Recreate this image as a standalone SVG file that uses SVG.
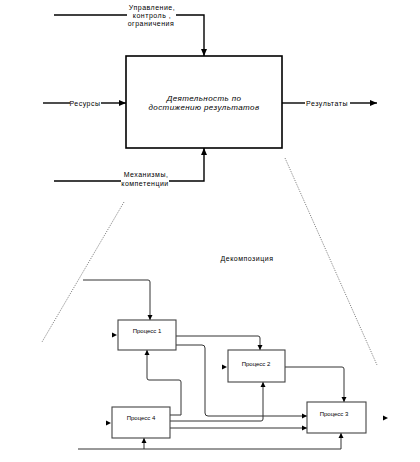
<svg xmlns="http://www.w3.org/2000/svg" width="420" height="462" viewBox="0 0 420 462">
<style>
text{font-family:"Liberation Sans",Arial,sans-serif;fill:#000;text-anchor:middle}
.t7{font-size:7px;letter-spacing:0.5px}
.main{font-size:8px;font-style:italic;letter-spacing:0.4px}
.p{font-size:6px}
.big{fill:#fff;stroke:#000;stroke-width:1.6}
.box{fill:#fff;stroke:#444;stroke-width:1.1}
.c1{fill:none;stroke:#000;stroke-width:1.4}
.c2{fill:none;stroke:#333;stroke-width:1}
.dot{fill:none;stroke:#666;stroke-width:0.8;stroke-dasharray:1.2 1.2}
.ah{fill:#000}
</style>
<defs>
<marker id="a1" markerUnits="userSpaceOnUse" markerWidth="8" markerHeight="8" refX="7" refY="4" orient="auto">
<path d="M0,1 L7,4 L0,7 z" fill="#000"/>
</marker>
<marker id="a2" markerUnits="userSpaceOnUse" markerWidth="6" markerHeight="6" refX="5" refY="3" orient="auto">
<path d="M0,0.5 L5,3 L0,5.5 z" fill="#000"/>
</marker>
</defs>

<g id="connectors">
<!-- top level -->
<path class="c1" d="M54,15 H127"/>
<path class="c1" d="M176,15 H204 V56" marker-end="url(#a1)"/>
<path class="c1" d="M43,103 H70"/>
<path class="c1" d="M101,103 H126" marker-end="url(#a1)"/>
<path class="c1" d="M282,103 H305"/>
<path class="c1" d="M350,103 H377" marker-end="url(#a1)"/>
<path class="c1" d="M54,181 H121"/>
<path class="c1" d="M169,181 H204 V148" marker-end="url(#a1)"/>
<!-- decomposition cone -->
<path class="dot" d="M124,202 L42,342"/>
<path class="dot" d="M285,158 L377,365"/>
<!-- lower level -->
<path class="c2" d="M83,280 H148 Q150,280 150,282 V320" marker-end="url(#a2)"/>
<path class="c2" d="M176,336 H258 Q260,336 260,338 V350" marker-end="url(#a2)"/>
<path class="c2" d="M176,345 H202 Q205,345 205,348 V413 Q205,416 208,416 H307" marker-end="url(#a2)"/>
<path class="c2" d="M285,367 H342 Q344,367 344,369 V402" marker-end="url(#a2)"/>
<path class="c2" d="M170,415 H181 V382 Q181,380 179,380 H149 Q147,380 147,378 V350" marker-end="url(#a2)"/>
<path class="c2" d="M170,421 H261 Q263,421 263,419 V382" marker-end="url(#a2)"/>
<path class="c2" d="M170,428 H307" marker-end="url(#a2)"/>
<path class="c2" d="M78,449 H341 V433" marker-end="url(#a2)"/>
<path class="c2" d="M144,449 V438" marker-end="url(#a2)"/>
<!-- stub arrowheads -->
<path class="ah" d="M112,332.5 L117,335 L112,337.5 z"/>
<path class="ah" d="M222,364.5 L227,367 L222,369.5 z"/>
<path class="ah" d="M106,420.5 L111,423 L106,425.5 z"/>
<path class="ah" d="M383,415.5 L388,418 L383,420.5 z"/>
</g>

<g id="labels">
<text class="t7" x="152" y="9.5">Управление,</text>
<text class="t7" x="152" y="17.5">контроль ,</text>
<text class="t7" x="151" y="26">ограничения</text>
<text class="t7" x="85" y="105.5">Ресурсы</text>
<text class="t7" x="327" y="105.5">Результаты</text>
<text class="t7" x="146" y="177">Механизмы,</text>
<text class="t7" x="145" y="186">компетенции</text>
<text class="t7" x="247" y="261">Декомпозиция</text>
</g>

<g id="activity">
<rect class="big" x="126" y="56" width="156" height="92"/>
<text class="main" x="204" y="101">Деятельность по</text>
<text class="main" x="204" y="110">достижению результатов</text>
</g>

<g id="process1">
<rect class="box" x="118" y="320" width="58" height="30"/>
<text class="p" x="147" y="333">Процесс 1</text>
</g>
<g id="process2">
<rect class="box" x="228" y="350" width="57" height="32"/>
<text class="p" x="256" y="366">Процесс 2</text>
</g>
<g id="process3">
<rect class="box" x="307" y="402" width="59" height="31"/>
<text class="p" x="334" y="416">Процесс 3</text>
</g>
<g id="process4">
<rect class="box" x="112" y="407" width="58" height="31"/>
<text class="p" x="141" y="420">Процесс 4</text>
</g>
</svg>
